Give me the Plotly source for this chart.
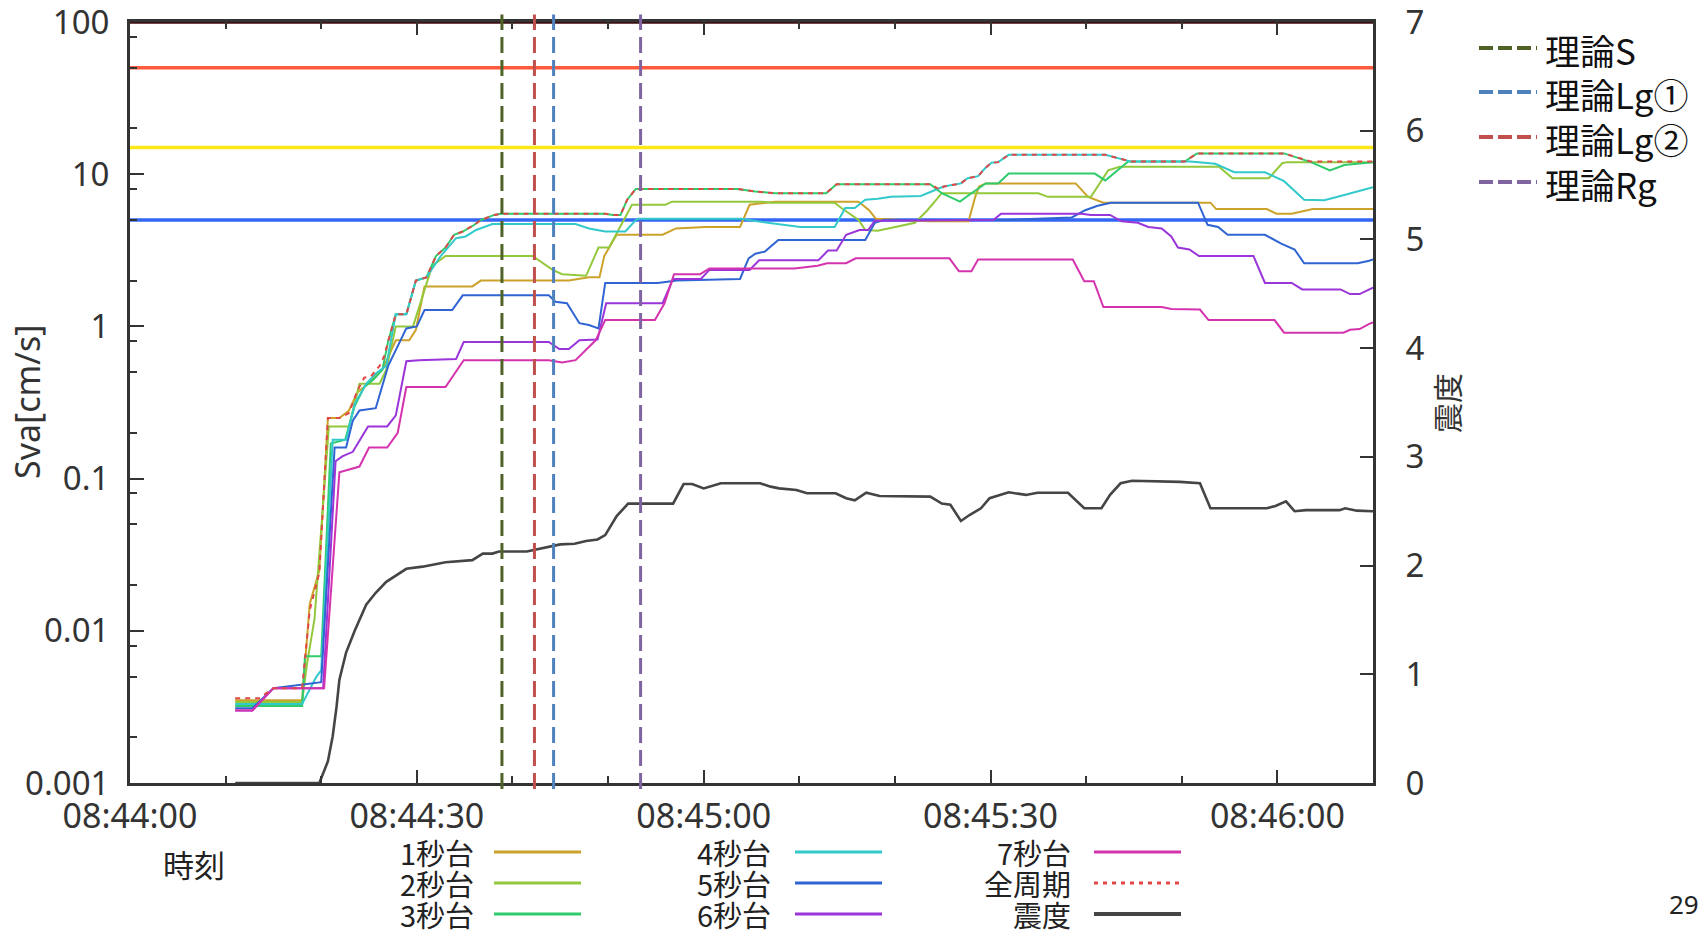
import plotly.graph_objects as go

# ---------------- data ----------------
# time axis: seconds after 08:44:00
x_tick_vals = [0, 30, 60, 90, 120]
x_tick_text = ["08:44:00", "08:44:30", "08:45:00", "08:45:30", "08:46:00"]
y_tick_vals = [0.001, 0.01, 0.1, 1, 10, 100]
y_tick_text = ["0.001", "0.01", "0.1", "1", "10", "100"]
y2_tick_vals = [0, 1, 2, 3, 4, 5, 6, 7]

t_1s = [11, 18, 18.8, 19.8, 20.7, 21.9, 22.9, 23.8, 24.7, 26.4, 27.8, 29.2, 29.9, 30.8, 35.8, 36.7, 45.9, 48.0, 49.1, 49.6,
        50.9, 55.7, 57.1, 60.2, 63.8, 64.8, 67.5, 76.2, 77.3, 78.0, 83.6, 87.7, 88.4, 88.8, 89.5, 98.9, 100.2, 101.8, 113.0,
        113.6, 118.9, 119.9, 121.5, 123.7, 130]
v_1s = [0.0035, 0.0035, 0.015, 0.025, 0.25, 0.25, 0.28, 0.37, 0.41, 0.52, 0.81, 0.81, 0.95, 1.83, 1.83, 2.0, 2.0, 2.1, 2.1, 2.9,
        4.0, 4.0, 4.4, 4.5, 4.5, 6.3, 6.6, 6.6, 5.8, 5.1, 4.9, 4.9, 7.1, 8.3, 8.7, 8.7, 7.1, 6.5, 6.5,
        5.9, 5.9, 5.5, 5.5, 5.9, 5.9]

t_2s = [11, 18, 18.5, 19.3, 20.8, 22.9, 24.0, 26.1, 26.8, 27.8, 29.6, 31.6, 33.0, 42.1, 44.2, 45.2, 47.7, 49.0, 50.1, 52.5,
        56.0, 56.7, 66.1, 67.1, 73.7, 74.4, 76.2, 76.9, 78.2, 82.1, 83.4, 84.9, 95.0, 96.0, 100.5, 102.3, 103.5, 113.9, 115.3,
        119.1, 120.5, 121.0, 130]
v_2s = [0.0034, 0.0034, 0.006, 0.012, 0.22, 0.22, 0.42, 0.42, 0.52, 1.0, 1.0, 2.5, 2.9, 2.9, 2.35, 2.2, 2.15, 3.3, 3.3, 6.3,
        6.3, 6.6, 6.6, 6.5, 6.5, 6.0, 5.0, 4.3, 4.25, 4.8, 5.8, 7.5, 7.5, 7.1, 7.1, 10.6, 11.2, 11.2, 9.4,
        9.4, 11.8, 12.0, 12.0]

t_3s = [11, 18, 18.3, 20.0, 21.0, 22.5, 23.5, 24.5, 25.5, 26.4, 27.0, 27.8, 28.9, 29.9, 31.0, 32.0, 33.0, 33.9, 34.8, 35.9,
        36.7, 38.1, 38.8, 49.7, 50.5, 51.3, 52.0, 52.9, 63.5, 65.4, 67.4, 72.8, 73.9, 83.7, 84.9, 86.8, 88.0, 89.5, 90.8,
        91.9, 100.9, 102.0, 104.4, 110.3, 111.6, 120.7, 123.5, 125.5, 127.0, 129.6, 130]
v_3s = [0.0032, 0.0032, 0.0068, 0.0068, 0.17, 0.18, 0.30, 0.40, 0.45, 0.52, 0.8, 1.2, 1.2, 2.0, 2.1, 2.9, 3.3, 4.0, 4.2, 4.6,
        5.0, 5.4, 5.5, 5.5, 5.4, 5.4, 6.8, 8.0, 8.0, 7.7, 7.5, 7.5, 8.6, 8.6, 7.5, 6.6, 7.5, 8.7, 8.7,
        10.1, 10.1, 9.1, 12.1, 12.1, 13.7, 13.7, 12.0, 10.6, 11.5, 12.0, 12.0]

t_4s = [11, 18, 19.5, 20.0, 21.2, 22.6, 23.5, 24.7, 25.7, 26.8, 27.8, 28.9, 29.9, 31.0, 32.5, 34.1, 35.1, 36.2, 37.9, 46.6,
        48.0, 49.7, 51.8, 52.9, 53.2, 63.9, 65.6, 69.4, 70.1, 73.7, 74.8, 75.8, 76.9, 78.2, 79.6, 82.7, 83.8, 85.1, 86.9,
        87.6, 88.7, 89.4, 90.1, 90.8, 91.9, 102.0, 104.7, 110.9, 113.5, 115.5, 118.7, 120.7, 122.8, 124.9, 127.0, 129.6, 130]
v_4s = [0.0033, 0.0033, 0.005, 0.0055, 0.18, 0.18, 0.31, 0.42, 0.49, 0.55, 1.2, 1.2, 2.0, 2.1, 2.9, 3.8, 3.9, 4.3, 4.7, 4.7,
        4.4, 4.2, 4.2, 5.0, 5.1, 5.1, 4.9, 4.6, 4.5, 4.5, 6.0, 6.0, 6.8, 6.9, 7.1, 7.2, 7.7, 8.3, 8.7,
        9.4, 9.7, 10.9, 11.9, 12.0, 13.4, 13.4, 12.1, 12.1, 11.7, 10.3, 10.3, 9.0, 6.8, 6.75, 7.3, 8.1, 8.2]

t_5s = [11, 12.8, 15.0, 20.0, 21.4, 22.6, 23.3, 24.0, 25.7, 27.0, 28.9, 30.0, 30.8, 33.7, 34.8, 43.8, 44.5, 45.7, 47.0, 48.0,
        49.0, 49.7, 55.2, 57.2, 63.8, 64.7, 65.4, 66.4, 67.8, 76.9, 77.9, 78.8, 91.6, 95.1, 98.5, 99.9, 101.2, 102.6, 111.7,
        112.7, 113.8, 114.8, 118.7, 120.4, 121.8, 122.8, 128.4, 129.6, 130]
v_5s = [0.0031, 0.0031, 0.0042, 0.0046, 0.16, 0.16, 0.24, 0.28, 0.29, 0.55, 0.97, 1.0, 1.28, 1.28, 1.6, 1.6, 1.45, 1.42, 1.05, 1.02,
        0.97, 1.93, 1.93, 2.0, 2.05, 2.8, 3.0, 3.1, 3.7, 3.7, 4.8, 5.0, 5.0, 5.1, 5.2, 5.8, 6.2, 6.5, 6.5,
        4.65, 4.5, 4.0, 4.0, 3.5, 3.2, 2.6, 2.6, 2.7, 2.75]

t_6s = [11, 12.8, 15.0, 20.2, 21.5, 22.2, 23.3, 24.9, 26.9, 27.8, 28.9, 30.2, 34.1, 34.9, 43.8, 44.9, 45.9, 47.0, 48.9, 49.8,
        55.7, 56.8, 59.7, 60.6, 64.8, 65.8, 72.0, 73.0, 73.9, 74.9, 76.3, 77.2, 77.9, 90.3, 91.1, 99.5, 100.5, 102.5, 103.7,
        105.4, 106.5, 107.9, 108.9, 109.6, 110.8, 111.8, 117.5, 118.7, 121.5, 122.6, 126.6, 127.6, 128.6, 129.6, 130]
v_6s = [0.0030, 0.0030, 0.0042, 0.0042, 0.13, 0.14, 0.15, 0.22, 0.22, 0.26, 0.59, 0.6, 0.61, 0.79, 0.79, 0.71, 0.71, 0.81, 0.82, 1.42,
        1.42, 2.05, 2.05, 2.35, 2.35, 2.72, 2.72, 3.15, 3.15, 4.0, 4.3, 4.3, 4.95, 5.0, 5.5, 5.5, 5.4, 5.4, 4.9,
        4.8, 4.5, 4.4, 3.9, 3.3, 3.2, 2.9, 2.9, 1.93, 1.93, 1.75, 1.75, 1.63, 1.63, 1.75, 1.8]

t_7s = [11, 12.8, 15.0, 20.3, 21.9, 24.0, 25.0, 26.9, 28.0, 28.9, 33.0, 34.9, 43.8, 45.2, 46.6, 47.7, 48.7, 49.7, 54.9, 55.9,
        56.9, 59.6, 60.6, 69.5, 71.9, 72.9, 74.9, 75.9, 85.7, 86.7, 88.0, 88.7, 98.6, 99.8, 100.8, 101.8, 107.9, 108.9, 111.9,
        112.8, 119.7, 120.7, 126.9, 127.6, 128.6, 129.6, 130]
v_7s = [0.0030, 0.0030, 0.0042, 0.0042, 0.11, 0.12, 0.16, 0.16, 0.2, 0.4, 0.4, 0.6, 0.6, 0.58, 0.6, 0.7, 0.81, 1.1, 1.1, 1.42,
        2.2, 2.2, 2.4, 2.4, 2.5, 2.6, 2.6, 2.8, 2.8, 2.3, 2.3, 2.75, 2.75, 1.98, 1.98, 1.34, 1.34, 1.3, 1.29,
        1.1, 1.1, 0.91, 0.91, 0.95, 0.96, 1.04, 1.06]

t_all = [11, 13.5, 15.0, 18.0, 18.8, 19.8, 20.7, 21.9, 22.9, 23.8, 24.5, 25.2, 26.1, 26.6, 27.1, 27.8, 28.9, 29.9, 31.0, 32.0,
         33.0, 33.9, 34.8, 35.9, 36.7, 38.1, 38.8, 49.7, 50.5, 51.3, 52.0, 52.9, 63.5, 65.4, 67.4, 72.8, 73.9, 83.7, 84.7,
         85.1, 86.9, 87.6, 88.7, 89.4, 90.1, 90.8, 91.9, 102.0, 104.7, 110.3, 111.6, 120.7, 123.5, 130]
v_all = [0.0036, 0.0036, 0.0042, 0.0042, 0.0137, 0.024, 0.25, 0.25, 0.27, 0.38, 0.46, 0.47, 0.55, 0.64, 0.84, 1.2, 1.2, 2.0, 2.1, 2.9,
         3.3, 4.0, 4.2, 4.6, 5.0, 5.4, 5.5, 5.5, 5.4, 5.4, 6.8, 8.0, 8.0, 7.7, 7.5, 7.5, 8.6, 8.6, 7.9,
         8.3, 8.7, 9.4, 9.7, 10.9, 11.9, 12.0, 13.4, 13.4, 12.1, 12.1, 13.7, 13.7, 12.1, 12.1]

t_int = [11, 19.8, 20.7, 21.2, 21.6, 21.9, 22.6, 23.5, 24.7, 25.7, 26.8, 28.9, 30.6, 33.0, 35.8, 36.9, 37.9, 38.6, 41.5, 42.7,
         44.2, 45.0, 46.5, 47.7, 48.9, 49.7, 50.9, 52.1, 56.8, 57.9, 58.8, 60.0, 61.8, 65.9, 67.0, 67.9, 69.7, 70.8, 73.8,
         74.9, 75.8, 77.0, 78.4, 83.7, 84.9, 85.8, 86.9, 87.8, 89.0, 89.9, 91.9, 93.7, 94.9, 98.1, 99.8, 101.6, 102.5, 103.6,
         104.8, 109.8, 111.9, 113.0, 118.9, 119.8, 120.9, 121.8, 123.0, 126.5, 127.1, 128.3, 130]
v_int = [0, 0, 0.2, 0.43, 0.7, 0.95, 1.2, 1.4, 1.64, 1.75, 1.85, 1.97, 1.99, 2.03, 2.05, 2.11, 2.11, 2.13, 2.13, 2.15,
         2.18, 2.195, 2.2, 2.226, 2.24, 2.28, 2.456, 2.57, 2.57, 2.75, 2.75, 2.71, 2.757, 2.757, 2.726, 2.71, 2.695, 2.665, 2.665,
         2.62, 2.6, 2.67, 2.64, 2.634, 2.57, 2.56, 2.41, 2.465, 2.527, 2.62, 2.674, 2.65, 2.67, 2.67, 2.527, 2.527, 2.65, 2.757,
         2.78, 2.77, 2.757, 2.527, 2.527, 2.548, 2.59, 2.5, 2.51, 2.51, 2.527, 2.505, 2.5]

threshold_values = [100, 50, 15, 5]
threshold_colors = ["#3C0F12", "#FF5A3C", "#FFE81A", "#3366F5"]

theory_names = ["理論S", "理論Lg①", "理論Lg②", "理論Rg"]
theory_times = [38.9, 44.3, 42.3, 53.4]
theory_colors = ["#4F6228", "#4F81BD", "#C0504D", "#8064A2"]

series_names = ["1秒台", "2秒台", "3秒台", "4秒台", "5秒台", "6秒台", "7秒台", "全周期", "震度"]
series_t = [t_1s, t_2s, t_3s, t_4s, t_5s, t_6s, t_7s, t_all, t_int]
series_v = [v_1s, v_2s, v_3s, v_4s, v_5s, v_6s, v_7s, v_all, v_int]
series_colors = ["#CCA22A", "#94C83C", "#2FCB6C", "#33C9CB", "#2F64D2", "#9A35DA", "#D533AE", "#E04848", "#454545"]
series_dash = ["solid"] * 7 + ["5px,5px", "solid"]
series_width = [2] * 7 + [2, 2.6]

# ---------------- layout geometry (pixels) ----------------
W, H = 1702, 932
L, R, T, B = 130, 1373, 22, 783


def px(x):
    return (x - L) / (R - L)


def py(y):
    return (B - y) / (B - T)


fig = go.Figure()

# threshold horizontal lines
for val, col in zip(threshold_values, threshold_colors):
    fig.add_trace(go.Scatter(x=[0, 130], y=[val, val], mode="lines",
                             line=dict(color=col, width=3.5), showlegend=False,
                             hoverinfo="skip", cliponaxis=False))

# data series
for i, (nm, tt, vv) in enumerate(zip(series_names, series_t, series_v)):
    fig.add_trace(go.Scatter(x=tt, y=vv, mode="lines", name=nm,
                             line=dict(color=series_colors[i], width=series_width[i], dash=series_dash[i]),
                             yaxis="y2" if nm == "震度" else "y", showlegend=False))

shapes = []
# theory vertical dashed lines
for tm, col in zip(theory_times, theory_colors):
    shapes.append(dict(type="line", xref="x", yref="paper", x0=tm, x1=tm, y0=-0.008, y1=1.01,
                       line=dict(color=col, width=3, dash="16px,7px")))

annotations = []
# right legend (theory lines)
leg_y = [48, 92, 137, 182]
for nm, col, yy in zip(theory_names, theory_colors, leg_y):
    shapes.append(dict(type="line", xref="paper", yref="paper", x0=px(1479), x1=px(1537), y0=py(yy), y1=py(yy),
                       line=dict(color=col, width=4, dash="14px,5px")))
    annotations.append(dict(xref="paper", yref="paper", x=px(1543), y=py(yy + 1), text=nm, showarrow=False,
                            xanchor="left", yanchor="middle",
                            font=dict(family="Noto Sans CJK JP", size=35, color="#111")))

# bottom legend (series)
row_y = [852, 883, 914]
col_text_x = [476, 773, 1073]
col_line_x = [(494, 581), (795, 882), (1094, 1181)]
for i, nm in enumerate(series_names):
    c, r = divmod(i, 3)
    yy = row_y[r]
    annotations.append(dict(xref="paper", yref="paper", x=px(col_text_x[c]), y=py(yy), text=nm, showarrow=False,
                            xanchor="right", yanchor="middle",
                            font=dict(family="Noto Sans CJK JP", size=29, color="#222")))
    x0, x1 = col_line_x[c]
    shapes.append(dict(type="line", xref="paper", yref="paper", x0=px(x0), x1=px(x1), y0=py(yy), y1=py(yy),
                       line=dict(color=series_colors[i], width=3 if nm != "震度" else 4,
                                 dash="4px,5px" if nm == "全周期" else "solid")))

annotations.append(dict(xref="paper", yref="paper", x=px(194), y=py(863), text="時刻", showarrow=False,
                        xanchor="center", yanchor="middle",
                        font=dict(family="Noto Sans CJK JP", size=31, color="#222")))
annotations.append(dict(xref="paper", yref="paper", x=px(27), y=py(402), text="Sva[cm/s]", showarrow=False,
                        xanchor="center", yanchor="middle", textangle=-90,
                        font=dict(family="Noto Sans", size=34, color="#333")))
annotations.append(dict(xref="paper", yref="paper", x=px(1446), y=py(403), text="震度", showarrow=False,
                        xanchor="center", yanchor="middle", textangle=-90,
                        font=dict(family="Noto Sans CJK JP", size=30, color="#333")))
annotations.append(dict(xref="paper", yref="paper", x=px(1684), y=py(904), text="29", showarrow=False,
                        xanchor="center", yanchor="middle",
                        font=dict(family="Noto Sans", size=26, color="#222")))

minor_log = [d * m for d in [0.001, 0.01, 0.1, 1, 10] for m in (2, 5, 8)]
tick_font = dict(family="Noto Sans", size=33, color="#333")

fig.update_layout(
    width=W, height=H,
    margin=dict(l=L, r=W - R, t=T, b=H - B, autoexpand=False),
    paper_bgcolor="white", plot_bgcolor="white",
    showlegend=False,
    xaxis=dict(range=[0, 130], tickvals=x_tick_vals, ticktext=x_tick_text,
               ticks="inside", ticklen=13, tickwidth=2, tickcolor="#333",
               showline=True, linewidth=3, linecolor="#333", mirror="ticks",
               showgrid=False, zeroline=False, ticklabelstandoff=1,
               minor=dict(dtick=10, tick0=0, ticks="inside", ticklen=7, tickwidth=2, tickcolor="#333"),
               tickfont=dict(family="Noto Sans", size=34, color="#333")),
    yaxis=dict(type="log", range=[-3, 2], tickvals=y_tick_vals, ticktext=y_tick_text,
               ticks="inside", ticklen=14, tickwidth=2, tickcolor="#333",
               showline=True, linewidth=3, linecolor="#333",
               showgrid=False, zeroline=False, ticklabelstandoff=11, ticklabeloverflow="allow",
               minor=dict(tickvals=minor_log, ticks="inside", ticklen=7, tickwidth=2, tickcolor="#333"),
               tickfont=tick_font),
    yaxis2=dict(overlaying="y", side="right", anchor="x", range=[0, 7], tickvals=y2_tick_vals,
                ticks="inside", ticklen=13, tickwidth=2, tickcolor="#333",
                showline=True, linewidth=3, linecolor="#333",
                showgrid=False, zeroline=False, ticklabelstandoff=23, ticklabeloverflow="allow",
                tickfont=tick_font),
    shapes=shapes,
    annotations=annotations,
)

fig.write_html("out.html", config={"displayModeBar": False},
               post_script="document.body.style.margin='0px';document.body.style.overflow='hidden';")
